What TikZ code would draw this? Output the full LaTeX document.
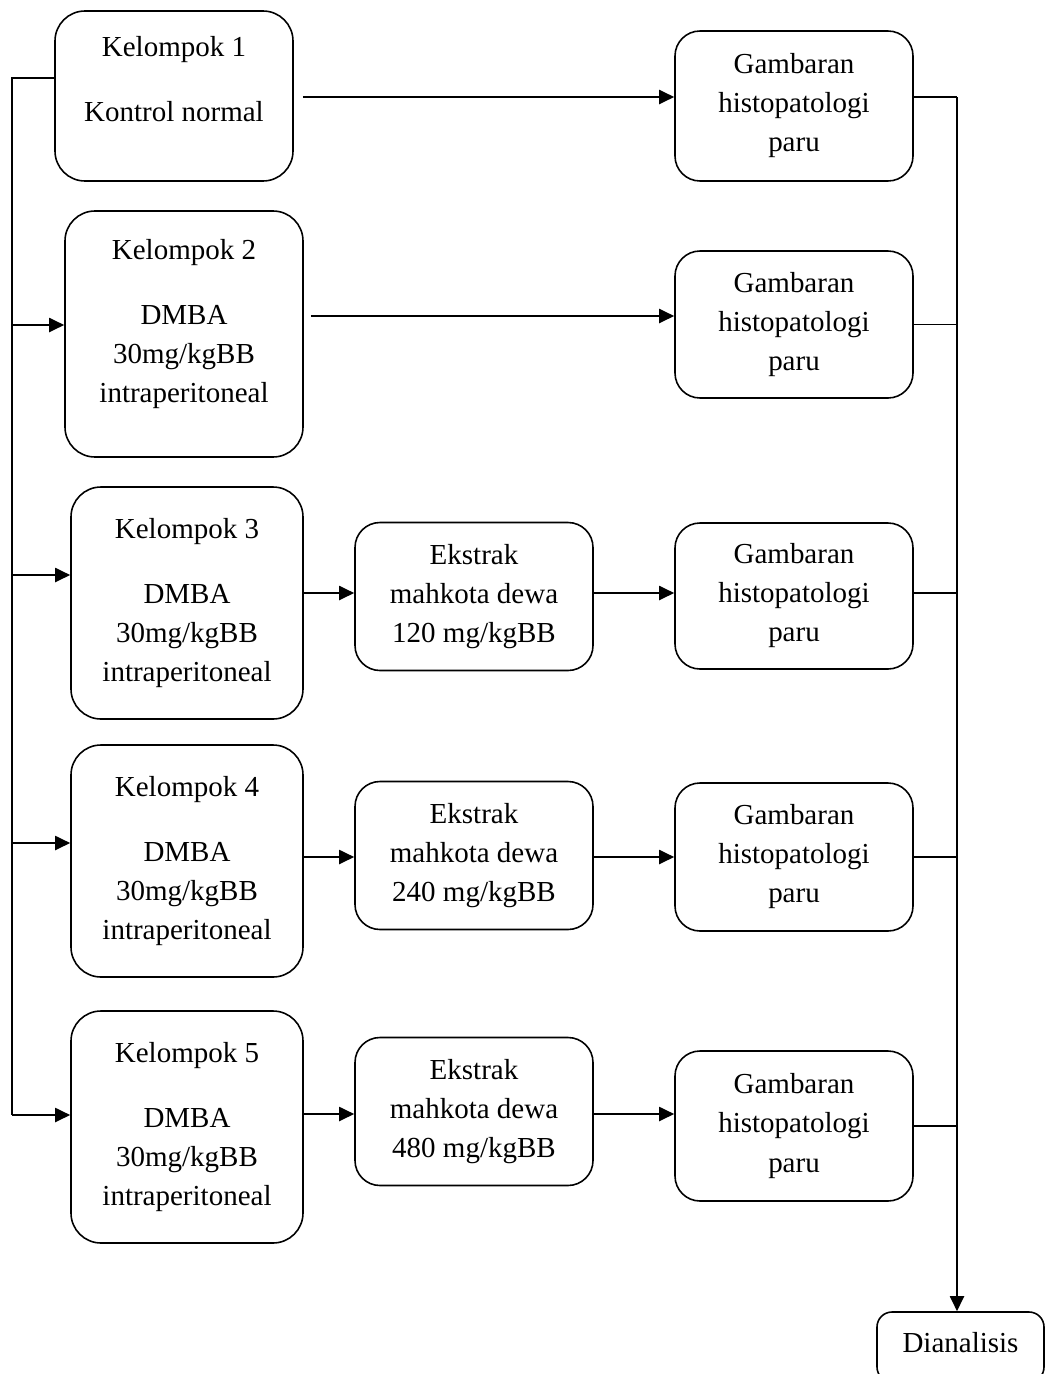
\documentclass[tikz,border=0pt]{standalone}
\usepackage{fontspec}
\setmainfont{Liberation Serif}
\usetikzlibrary{arrows.meta,calc}
\tikzset{
	kelompok/.style={
			draw, rounded corners=0.6cm, line width=0.9pt, align=center,
			minimum width=4.64cm, minimum height=4.64cm,
			font=\fontsize{16.5}{22.2}\selectfont
		},
	proses/.style={
			draw, rounded corners=0.5cm, line width=0.9pt, align=center,
			minimum width=4.76cm, minimum height=2.96cm,
			font=\fontsize{16.5}{22.2}\selectfont
		},
	panah/.style={line width=1.1pt, -{Triangle[length=3mm,width=2.8mm]}},
	garis/.style={line width=1.1pt}
}

\begin{document}
\begin{tikzpicture}
        \clip (0, 0) rectangle (20.92, -27.48);
        % kelompok perlakuan
        \node[kelompok, minimum width=4.76cm, minimum height=3.4cm, text depth=0.68cm] (k1) at (3.48, -1.92) {Kelompok 1\\[15pt]Kontrol normal};
        \node[kelompok, minimum width=4.76cm, minimum height=4.92cm, text depth=0.53cm] (k2) at (3.68, -6.68) {Kelompok 2\\[15pt]DMBA\\30mg/kgBB\\intraperitoneal};
        \node[kelompok] (k3) at (3.74, -12.06) {Kelompok 3\\[15pt]DMBA\\30mg/kgBB\\intraperitoneal};
        \node[kelompok] (k4) at (3.74, -17.22) {Kelompok 4\\[15pt]DMBA\\30mg/kgBB\\intraperitoneal};
        \node[kelompok] (k5) at (3.74, -22.54) {Kelompok 5\\[15pt]DMBA\\30mg/kgBB\\intraperitoneal};
        % ekstrak
        \node[proses] (e3) at (9.48, -11.93) {Ekstrak\\mahkota dewa\\120 mg/kgBB};
        \node[proses] (e4) at (9.48, -17.11) {Ekstrak\\mahkota dewa\\240 mg/kgBB};
        \node[proses] (e5) at (9.48, -22.23) {Ekstrak\\mahkota dewa\\480 mg/kgBB};
        % gambaran histopatologi
        \node[proses, minimum height=3cm] (g1) at (15.88, -2.12) {Gambaran\\histopatologi\\paru};
        \node[proses, minimum height=2.94cm] (g2) at (15.88, -6.49) {Gambaran\\histopatologi\\paru};
        \node[proses, minimum height=2.92cm] (g3) at (15.88, -11.92) {Gambaran\\histopatologi\\paru};
        \node[proses] (g4) at (15.88, -17.14) {Gambaran\\histopatologi\\paru};
        \node[proses, minimum height=3cm] (g5) at (15.88, -22.52) {Gambaran\\histopatologi\\paru};
        \node[proses, rounded corners=0.3cm, minimum width=3.34cm, minimum height=1.4cm, text depth=0.19cm] (d) at (19.21, -26.94) {Dianalisis};
        % jalur kiri
        \coordinate (lb) at (0.24, -1.56);
        \coordinate (l2) at (0.24, -6.5);
        \coordinate (l3) at (0.24, -11.5);
        \coordinate (l4) at (0.24, -16.86);
        \coordinate (l5) at (0.24, -22.3);
        \draw[garis] (lb -| k1.west) -- (lb) -- (l5);
        \draw[panah] (l2) -- (l2 -| k2.west);
        \draw[panah] (l3) -- (l3 -| k3.west);
        \draw[panah] (l4) -- (l4 -| k4.west);
        \draw[panah] (l5) -- (l5 -| k5.west);
        % jalur tengah
        \coordinate (m1) at (0, -1.94);
        \coordinate (m2) at (0, -6.32);
        \coordinate (m3) at (0, -11.86);
        \coordinate (m4) at (0, -17.14);
        \coordinate (m5) at (0, -22.28);
        \draw[panah, shorten <=1.8mm] (m1 -| k1.east) -- (m1 -| g1.west);
        \draw[panah, shorten <=1.4mm] (m2 -| k2.east) -- (m2 -| g2.west);
        \draw[panah] (m3 -| k3.east) -- (m3 -| e3.west);
        \draw[panah] (m3 -| e3.east) -- (m3 -| g3.west);
        \draw[panah] (m4 -| k4.east) -- (m4 -| e4.west);
        \draw[panah] (m4 -| e4.east) -- (m4 -| g4.west);
        \draw[panah] (m5 -| k5.east) -- (m5 -| e5.west);
        \draw[panah] (m5 -| e5.east) -- (m5 -| g5.west);
        % jalur kanan
        \coordinate (rb) at (19.14, -1.94);
        \draw[garis] (m1 -| g1.east) -- (rb);
        \draw[panah] (rb) -- (rb |- d.north);
        \draw[garis] (g2.east) -- (g2.east -| rb);
        \draw[garis] (m3 -| g3.east) -- (m3 -| rb);
        \draw[garis] (g4.east) -- (g4.east -| rb);
        \draw[garis] (g5.east) -- (g5.east -| rb);
\end{tikzpicture}
\end{document}
